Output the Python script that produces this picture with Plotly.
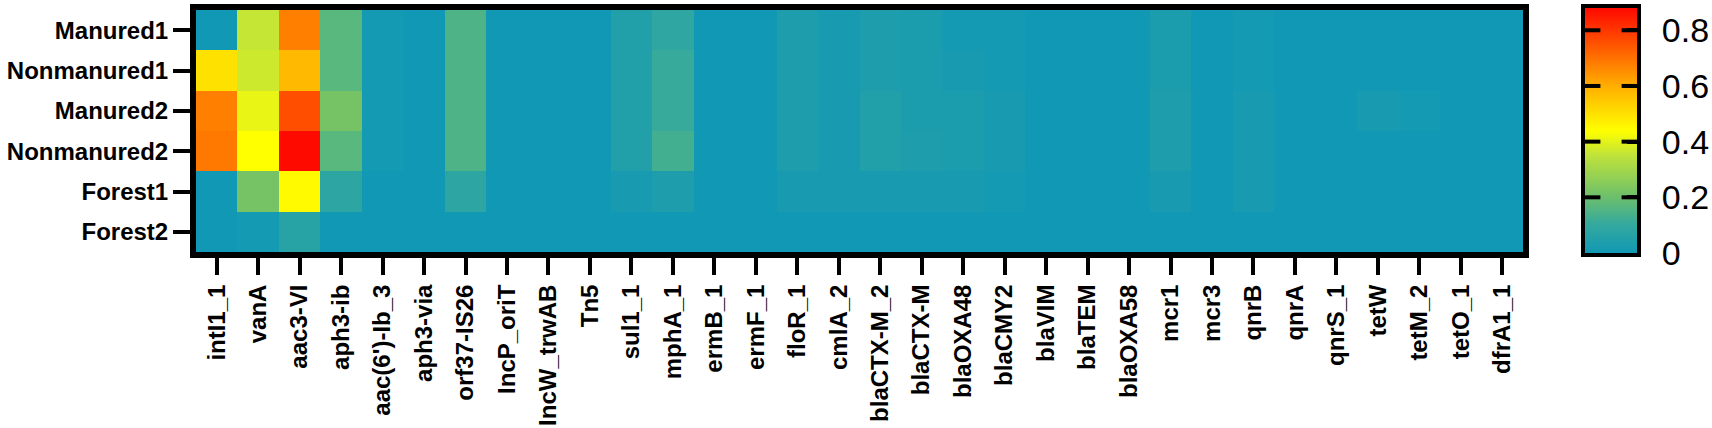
import plotly.graph_objects as go

genes = ["intI1_1", "vanA", "aac3-VI", "aph3-ib", "aac(6')-Ib_3", "aph3-via", "orf37-IS26",
         "IncP_oriT", "IncW_trwAB", "Tn5", "sul1_1", "mphA_1", "ermB_1", "ermF_1", "floR_1",
         "cmlA_2", "blaCTX-M_2", "blaCTX-M", "blaOXA48", "blaCMY2", "blaVIM", "blaTEM",
         "blaOXA58", "mcr1", "mcr3", "qnrB", "qnrA", "qnrS_1", "tetW", "tetM_2", "tetO_1", "dfrA1_1"]

samples = ["Manured1", "Nonmanured1", "Manured2", "Nonmanured2", "Forest1", "Forest2"]

#                intI1 vanA  aac3  aph3b aac6  aph3v orf37 IncP  IncW  Tn5   sul1  mphA  ermB  ermF  floR  cmlA  CTXM2 CTXM  OXA48 CMY2  VIM   TEM   OXA58 mcr1  mcr3  qnrB  qnrA  qnrS  tetW  tetM  tetO  dfrA1
manured1    = [0.00, 0.36, 0.68, 0.17, 0.01, 0.00, 0.15, 0.00, 0.00, 0.00, 0.05, 0.09, 0.00, 0.00, 0.04, 0.02, 0.04, 0.03, 0.01, 0.01, 0.00, 0.00, 0.00, 0.03, 0.00, 0.01, 0.00, 0.00, 0.00, 0.00, 0.00, 0.00]
nonmanured1 = [0.50, 0.37, 0.58, 0.17, 0.01, 0.00, 0.15, 0.00, 0.00, 0.00, 0.05, 0.11, 0.00, 0.00, 0.04, 0.02, 0.04, 0.03, 0.02, 0.01, 0.00, 0.00, 0.00, 0.03, 0.00, 0.01, 0.00, 0.00, 0.00, 0.00, 0.00, 0.00]
manured2    = [0.68, 0.41, 0.76, 0.22, 0.01, 0.00, 0.15, 0.00, 0.00, 0.00, 0.05, 0.11, 0.00, 0.00, 0.04, 0.02, 0.05, 0.03, 0.03, 0.02, 0.00, 0.00, 0.00, 0.04, 0.00, 0.02, 0.00, 0.00, 0.02, 0.01, 0.00, 0.00]
nonmanured2 = [0.69, 0.44, 0.88, 0.17, 0.01, 0.00, 0.15, 0.00, 0.00, 0.00, 0.05, 0.13, 0.00, 0.00, 0.04, 0.02, 0.05, 0.04, 0.03, 0.02, 0.00, 0.00, 0.00, 0.04, 0.00, 0.02, 0.00, 0.00, 0.00, 0.00, 0.00, 0.00]
forest1     = [0.00, 0.22, 0.45, 0.08, 0.00, 0.00, 0.08, 0.00, 0.00, 0.00, 0.02, 0.04, 0.00, 0.00, 0.02, 0.02, 0.02, 0.02, 0.02, 0.01, 0.00, 0.00, 0.00, 0.02, 0.00, 0.02, 0.00, 0.00, 0.00, 0.00, 0.00, 0.00]
forest2     = [0.00, 0.01, 0.07, 0.00, 0.00, 0.00, 0.00, 0.00, 0.00, 0.00, 0.00, 0.00, 0.00, 0.00, 0.00, 0.00, 0.00, 0.00, 0.00, 0.00, 0.00, 0.00, 0.00, 0.00, 0.00, 0.00, 0.00, 0.00, 0.00, 0.00, 0.00, 0.00]

cbar_ticks = [0, 0.2, 0.4, 0.6, 0.8]
cbar_ticktext = ["0", "0.2", "0.4", "0.6", "0.8"]
zmin, zmax = 0.0, 0.88

z = [manured1, nonmanured1, manured2, nonmanured2, forest1, forest2]

colorscale = [
    [0.0, "#1198b4"],
    [0.12, "#34a99e"],
    [0.23, "#6cbf6c"],
    [0.40, "#bfe33a"],
    [0.50, "#ffff00"],
    [0.68, "#ffb000"],
    [0.86, "#ff5000"],
    [1.0, "#ff0a00"],
]

W, H = 1712, 428
# pixel layout of the figure
heat_l, heat_r, heat_t, heat_b = 196, 1523, 10, 252   # heatmap cell area
cb_l, cb_r, cb_t, cb_b = 1585, 1637, 8, 253          # colour-scale bar
ML, MR = heat_l, W - cb_r
MT, MB = cb_t, H - cb_b
PW = W - ML - MR
PH = H - MT - MB

FONT = "Liberation Sans, Arial, Helvetica, sans-serif"
bar_edges = [0, 1]   # x-range of the colour-scale bar axis

fig = go.Figure()

# main heatmap
fig.add_trace(go.Heatmap(
    z=z, x=genes, y=samples,
    colorscale=colorscale, zmin=zmin, zmax=zmax,
    showscale=False, hoverongaps=False,
    xaxis="x", yaxis="y",
))

# colour-scale bar drawn as a smooth heatmap between the scale limits
fig.add_trace(go.Heatmap(
    z=[[zmin, zmin], [zmax, zmax]], x=bar_edges, y=[zmin, zmax],
    colorscale=colorscale, zmin=zmin, zmax=zmax, zsmooth="best",
    showscale=False, hoverinfo="skip",
    xaxis="x2", yaxis="y2",
))

# inner tick notches on both edges of the colour-scale bar (clipped to the bar)
notch_x = [e for v in cbar_ticks[1:] for e in bar_edges]
notch_y = [v for v in cbar_ticks[1:] for _ in bar_edges]
fig.add_trace(go.Scatter(
    x=notch_x, y=notch_y, mode="markers",
    marker=dict(symbol="line-ew", size=22, color="black",
                line=dict(color="black", width=4)),
    cliponaxis=True, hoverinfo="skip", showlegend=False,
    xaxis="x2", yaxis="y2",
))

fig.update_layout(
    width=W, height=H,
    margin=dict(l=ML, r=MR, t=MT, b=MB, pad=0, autoexpand=False),
    paper_bgcolor="white", plot_bgcolor="white",
    font=dict(family=FONT, color="black"),
    showlegend=False,
    xaxis=dict(
        domain=[0, (heat_r - heat_l) / PW],
        showline=True, linewidth=6, linecolor="black", mirror=True,
        ticks="outside", ticklen=17, tickwidth=4, tickcolor="black",
        tickangle=-90, tickfont=dict(family=FONT, size=24, color="black", weight="bold"),
        showgrid=False, zeroline=False, automargin=False,
    ),
    yaxis=dict(
        domain=[(cb_b - heat_b) / PH, (cb_b - heat_t) / PH],
        autorange="reversed",
        showline=True, linewidth=6, linecolor="black", mirror=True,
        ticks="outside", ticklen=17, tickwidth=4, tickcolor="black",
        tickfont=dict(family=FONT, size=24, color="black", weight="bold"),
        showgrid=False, zeroline=False, automargin=False,
    ),
    xaxis2=dict(
        domain=[(cb_l - ML) / PW, 1.0], anchor="y2", range=bar_edges,
        showline=True, linewidth=4, linecolor="black", mirror=True,
        showticklabels=False, ticks="", showgrid=False, zeroline=False,
        fixedrange=True, automargin=False,
    ),
    yaxis2=dict(
        domain=[0, 1], anchor="x2", range=[zmin, zmax], side="right",
        showline=True, linewidth=4, linecolor="black", mirror=True,
        tickvals=cbar_ticks, ticktext=cbar_ticktext,
        ticks="inside", ticklen=10, tickwidth=4, tickcolor="black",
        ticklabelstandoff=14,
        tickfont=dict(family=FONT, size=34, color="black"),
        showgrid=False, zeroline=False, fixedrange=True, automargin=False,
    ),
)

fig.write_html("out.html", config={"displayModeBar": False},
               post_script="document.body.style.margin='0';")
